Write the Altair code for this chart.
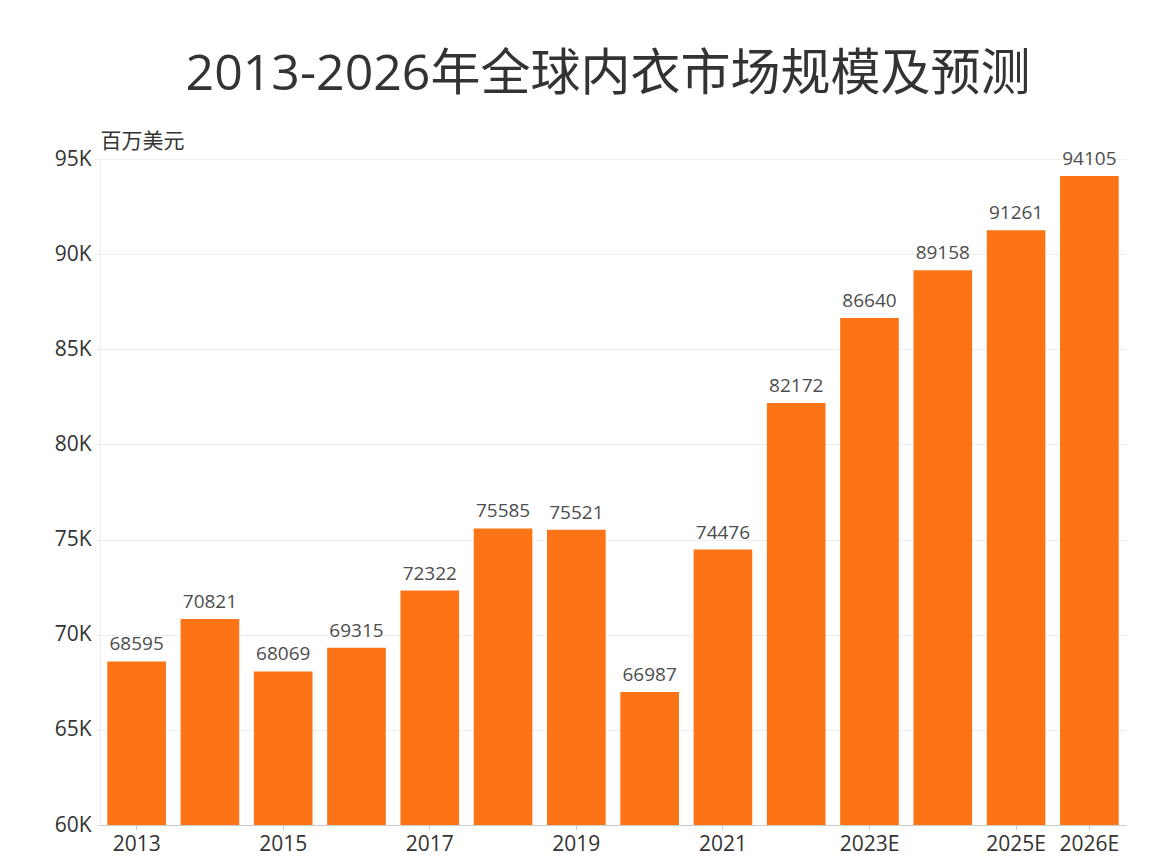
import altair as alt
import pandas as pd

years = ["2013", "2014", "2015", "2016", "2017", "2018", "2019", "2020",
         "2021", "2022", "2023E", "2024E", "2025E", "2026E"]
values = [68595, 70821, 68069, 69315, 72322, 75585, 75521, 66987,
          74476, 82172, 86640, 89158, 91261, 94105]
shown_labels = ["2013", "2015", "2017", "2019", "2021", "2023E", "2025E", "2026E"]
y_ticks = [60000, 65000, 70000, 75000, 80000, 85000, 90000, 95000]

df = pd.DataFrame({"year": years, "value": values})

FONT = "Open Sans, Noto Sans CJK SC, sans-serif"

base = alt.Chart(df).encode(
    x=alt.X("year:N", sort=years,
            scale=alt.Scale(paddingInner=0.2, paddingOuter=0.1),
            axis=alt.Axis(title=None, values=shown_labels, labelAngle=0,
                          labelFontSize=21, labelColor="#333333", labelFont=FONT,
                          labelPadding=3, tickSize=5, tickColor="#cccccc",
                          domainColor="#cccccc", grid=False)),
    y=alt.Y("value:Q",
            scale=alt.Scale(domain=[60000, 95000], zero=False, nice=False, clamp=True),
            axis=alt.Axis(title="百万美元", titleAngle=0, titleAlign="left",
                          titleBaseline="alphabetic", titleX=0, titleY=-12,
                          titleFontSize=21, titleFontWeight="normal",
                          titleColor="#333333", titleFont=FONT,
                          values=y_ticks, labelExpr="datum.value / 1000 + 'K'",
                          labelFontSize=21, labelColor="#333333", labelFont=FONT,
                          labelPadding=4, tickSize=5, tickColor="#eeeeee",
                          domainColor="#eeeeee", gridColor="#eeeeee")),
)

bars = base.mark_bar(color="#FC7415", clip=True)
labels = base.mark_text(baseline="bottom", dy=-7, fontSize=19, color="#4d4d4d",
                        font=FONT).encode(text="value:Q")

chart = (bars + labels).properties(
    width=1026, height=666,
    title=alt.TitleParams("2013-2026年全球内衣市场规模及预测", fontSize=50,
                          font=FONT, fontWeight="normal", color="#333333",
                          anchor="middle", offset=30, dx=-5),
    autosize=alt.AutoSizeParams(type="none"),
    padding={"left": 92, "top": 151, "right": 40, "bottom": 40},
).configure_view(stroke=None)

chart.save("out.html", embed_options={"renderer": "svg", "actions": False})
